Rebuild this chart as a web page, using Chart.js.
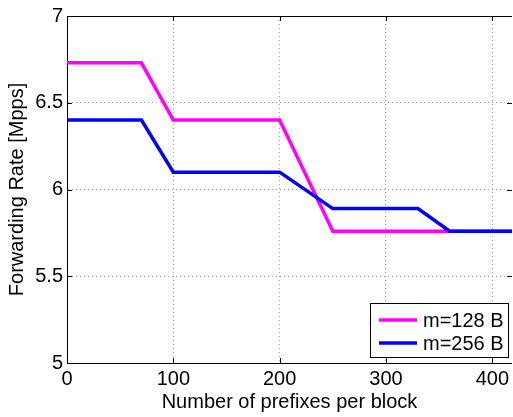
<!DOCTYPE html>
<html>
<head>
<meta charset="utf-8">
<script src="https://cdn.jsdelivr.net/npm/chart.js@4/dist/chart.umd.min.js"></script>
<style>
  body { margin: 0; background: #fff; }
  canvas { display: block; }
</style>
</head>
<body>
<canvas id="myChart" width="513" height="417"></canvas>
<script>
// series (x = prefixes per block, y = Mpps)
var seriesNames = ["m=128 B", "m=256 B"];
var x128 = [0, 70, 100, 200, 250, 420];
var y128 = [6.73, 6.73, 6.4, 6.4, 5.76, 5.76];
var x256 = [0, 70, 100, 200, 250, 330, 360, 420];
var y256 = [6.4, 6.4, 6.1, 6.1, 5.89, 5.89, 5.76, 5.76];
var xTicks = [0, 100, 200, 300, 400];
var yTicks = [5, 5.5, 6, 6.5, 7];

function toPoints(xs, ys) {
  var pts = [];
  for (var i = 0; i < xs.length; i++) pts.push({ x: xs[i], y: ys[i] });
  return pts;
}

var FONT = "'Liberation Sans', Arial, Helvetica, sans-serif";

// frame on top + inward tick marks + legend box, matlab style
var matlabBits = {
  id: "matlabBits",
  afterDraw: function (chart) {
    var ctx = chart.ctx;
    var a = chart.chartArea;
    var xs = chart.scales.x, ys = chart.scales.y;
    ctx.save();
    ctx.strokeStyle = "#000";
    ctx.lineWidth = 1;
    ctx.beginPath();
    ctx.moveTo(a.left, a.top + 0.5);
    ctx.lineTo(a.right, a.top + 0.5);
    xTicks.forEach(function (v) {
      var p = Math.round(xs.getPixelForValue(v)) + 0.5;
      ctx.moveTo(p, a.bottom); ctx.lineTo(p, a.bottom - 5);
      ctx.moveTo(p, a.top); ctx.lineTo(p, a.top + 5);
    });
    yTicks.forEach(function (v) {
      var p = Math.round(ys.getPixelForValue(v)) + 0.5;
      ctx.moveTo(a.left, p); ctx.lineTo(a.left + 5, p);
      ctx.moveTo(a.right, p); ctx.lineTo(a.right - 5, p);
    });
    ctx.stroke();

    // legend
    var bx = 370.5, by = 303.5, bw = 138, bh = 54;
    ctx.fillStyle = "#fff";
    ctx.fillRect(bx, by, bw, bh);
    ctx.strokeRect(bx, by, bw, bh);
    ctx.font = "20px " + FONT;
    ctx.textBaseline = "middle";
    chart.data.datasets.forEach(function (ds, i) {
      var cy = 320 + i * 23;
      ctx.strokeStyle = ds.borderColor;
      ctx.lineWidth = 3.5;
      ctx.beginPath();
      ctx.moveTo(379, cy);
      ctx.lineTo(417, cy);
      ctx.stroke();
      ctx.fillStyle = "#000";
      ctx.fillText(ds.label, 423, cy + 1);
    });
    ctx.restore();
  }
};

var ctx = document.getElementById("myChart").getContext("2d");
var myChart = new Chart(ctx, {
  type: "line",
  data: {
    datasets: [
      {
        label: seriesNames[0],
        data: toPoints(x128, y128),
        borderColor: "rgb(255,0,255)",
        borderWidth: 3.5,
        pointRadius: 0,
        tension: 0,
        order: 1,
      },
      {
        label: seriesNames[1],
        data: toPoints(x256, y256),
        borderColor: "rgb(0,0,255)",
        borderWidth: 3.5,
        pointRadius: 0,
        tension: 0,
        order: 0,
      },
    ],
  },
  options: {
    responsive: false,
    animation: false,
    events: [],
    layout: { padding: { top: 11, right: 0, left: 0, bottom: 0 } },
    plugins: { legend: { display: false }, tooltip: { enabled: false } },
    scales: {
      x: {
        type: "linear",
        min: 0,
        max: 418.5,
        afterBuildTicks: function (s) {
          s.ticks = xTicks.map(function (v) { return { value: v }; });
        },
        afterFit: function (s) { s.height = 54; },
        ticks: {
          color: "#000",
          font: { family: FONT, size: 20 },
          padding: 4,
          maxRotation: 0,
          autoSkip: false,
        },
        grid: { color: "#a6a6a6", lineWidth: 1, drawTicks: false },
        border: { display: true, color: "#000", width: 1, dash: [1, 3] },
        title: {
          display: true,
          text: "Number of prefixes per block",
          color: "#000",
          font: { family: FONT, size: 20 },
          padding: { top: 0, bottom: 3 },
        },
      },
      y: {
        min: 5,
        max: 7,
        afterBuildTicks: function (s) {
          s.ticks = yTicks.map(function (v) { return { value: v }; });
        },
        afterFit: function (s) { s.width = 67; },
        ticks: {
          color: "#000",
          font: { family: FONT, size: 20 },
          padding: 4,
          callback: function (v) { return String(v); },
        },
        grid: { color: "#a6a6a6", lineWidth: 1, drawTicks: false },
        border: { display: true, color: "#000", width: 1, dash: [1, 3] },
        title: {
          display: true,
          text: "Forwarding Rate [Mpps]",
          color: "#000",
          font: { family: FONT, size: 20 },
          padding: { top: 5, bottom: 0 },
        },
      },
    },
  },
  plugins: [matlabBits],
});
</script>
</body>
</html>
